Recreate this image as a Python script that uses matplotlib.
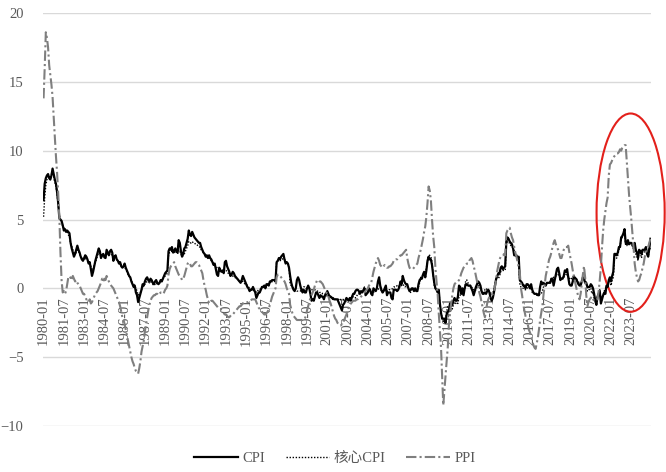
import numpy as np
import pandas as pd
import matplotlib.pyplot as plt
from matplotlib.patches import Ellipse

plt.rcParams['font.family'] = ['Liberation Serif', 'Noto Sans CJK SC']

# monthly, 1980-01 .. 2024-12
months = pd.date_range('1980-01', '2024-12', freq='MS').strftime('%Y-%m').tolist()

cpi = [
    6.4, 7.6, 8.0, 8.2, 8.3, 8.0, 7.9, 8.2, 8.7, 8.3, 7.9, 7.6,
    7.0, 6.2, 5.1, 5.0, 4.9, 4.6, 4.2, 4.3, 4.1, 4.2, 4.1, 4.0,
    3.3, 2.9, 2.6, 2.3, 2.5, 2.8, 3.1, 2.8, 2.6, 2.3, 2.1, 2.0,
    2.2, 2.4, 2.3, 2.1, 1.8, 1.9, 1.4, 0.9, 1.2, 1.6, 2.0, 2.3,
    2.6, 2.9, 2.7, 2.2, 2.4, 2.5, 2.3, 2.2, 2.8, 2.6, 2.4, 2.7,
    2.8, 2.6, 2.0, 2.3, 2.4, 2.1, 2.0, 1.8, 1.9, 1.6, 1.5, 1.6,
    1.8, 1.5, 1.3, 1.1, 0.9, 0.8, 0.5, 0.3, 0.1, 0.2, -0.3, -0.5,
    -1.0, -0.7, -0.4, -0.1, 0.3, 0.2, 0.5, 0.7, 0.8, 0.6, 0.5, 0.7,
    0.6, 0.4, 0.3, 0.5, 0.6, 0.4, 0.3, 0.4, 0.6, 0.5, 0.7, 0.9,
    1.1, 1.2, 1.3, 2.7, 2.9, 2.8, 3.0, 2.6, 2.7, 2.9, 2.7, 2.6,
    3.5, 3.3, 2.7, 2.3, 2.5, 2.9, 3.0, 3.3, 3.6, 4.2, 3.9, 3.8,
    4.1, 3.9, 3.7, 3.6, 3.5, 3.4, 3.3, 3.3, 3.0, 2.8, 2.6, 2.5,
    2.3, 2.4, 2.2, 2.4, 2.2, 2.1, 1.9, 1.7, 1.8, 1.4, 1.0, 0.9,
    1.5, 1.3, 1.2, 1.3, 1.1, 1.9, 2.0, 1.6, 1.4, 1.2, 0.9, 1.0,
    1.2, 1.1, 0.9, 0.8, 0.7, 0.6, 0.5, 0.4, 0.6, 0.9, 0.7, 0.5,
    0.3, 0.1, 0.0, -0.2, -0.1, -0.1, 0.1, -0.1, -0.3, -0.7, -0.5, -0.3,
    -0.3, -0.1, 0.1, 0.1, 0.2, 0.0, 0.3, 0.3, 0.2, 0.5, 0.5, 0.6,
    0.6, 0.6, 0.5, 1.9, 2.0, 2.2, 2.1, 2.3, 2.4, 2.5, 2.1, 1.8,
    1.9, 1.8, 1.5, 0.9, 0.4, 0.1, -0.1, -0.2, 0.0, 0.6, 0.8, 0.6,
    0.2, -0.1, -0.3, -0.1, -0.3, -0.3, 0.0, 0.2, 0.0, -0.4, -0.9, -0.8,
    -0.9, -0.6, -0.3, -0.3, -0.5, -0.7, -0.5, -0.6, -0.6, -0.8, -0.5, -0.4,
    -0.2, -0.4, -0.6, -0.6, -0.7, -0.7, -0.8, -0.8, -0.8, -0.8, -1.0, -1.2,
    -1.4, -1.6, -1.2, -1.1, -0.9, -0.7, -0.8, -0.9, -0.7, -0.9, -0.6, -0.4,
    -0.4, -0.2, -0.1, -0.1, -0.2, -0.4, -0.2, -0.3, -0.2, 0.0, -0.5, -0.4,
    -0.3, 0.0, -0.1, -0.4, -0.5, 0.0, -0.1, -0.2, 0.0, 0.5, 0.8, 0.2,
    -0.1, -0.3, -0.2, 0.0, 0.2, -0.5, -0.3, -0.3, -0.3, -0.7, -0.8, -0.1,
    -0.1, -0.1, -0.2, -0.1, 0.1, 0.5, 0.3, 0.9, 0.6, 0.4, 0.3, 0.3,
    0.0, -0.2, -0.1, 0.0, 0.0, -0.2, 0.0, -0.2, -0.2, 0.3, 0.6, 0.7,
    0.7, 1.0, 1.2, 0.8, 1.3, 2.0, 2.3, 2.1, 2.1, 1.7, 1.0, 0.4,
    0.0, -0.1, -0.3, -0.1, -1.1, -1.8, -2.2, -2.2, -2.2, -2.5, -1.9, -1.7,
    -1.6, -1.1, -1.1, -1.2, -0.9, -0.7, -0.9, -0.9, -0.6, 0.2, 0.1, -0.4,
    0.0, -0.5, 0.0, 0.3, 0.3, 0.2, 0.2, 0.2, 0.0, -0.2, -0.5, -0.2,
    0.1, 0.3, 0.5, 0.4, 0.2, -0.2, -0.4, -0.4, -0.3, -0.4, -0.2, -0.1,
    -0.3, -0.7, -0.9, -0.7, -0.3, 0.2, 0.7, 0.9, 1.1, 1.1, 1.5, 1.6,
    1.4, 1.5, 1.6, 3.4, 3.7, 3.6, 3.4, 3.3, 3.2, 2.9, 2.4, 2.4,
    2.4, 2.2, 2.3, 0.6, 0.5, 0.4, 0.2, 0.2, 0.0, 0.3, 0.3, 0.2,
    0.0, 0.3, -0.1, -0.3, -0.4, -0.4, -0.4, -0.5, -0.5, 0.1, 0.5, 0.3,
    0.4, 0.3, 0.2, 0.4, 0.4, 0.4, 0.4, 0.7, 0.7, 0.2, 0.6, 1.0,
    1.4, 1.5, 1.1, 0.6, 0.7, 0.7, 0.9, 1.3, 1.2, 1.4, 0.8, 0.3,
    0.2, 0.2, 0.5, 0.9, 0.7, 0.7, 0.5, 0.3, 0.2, 0.2, 0.5, 0.8,
    0.7, 0.4, 0.4, 0.1, 0.1, 0.1, 0.3, 0.2, 0.0, -0.4, -0.9, -1.2,
    -0.6, -0.4, -0.2, -1.1, -0.8, -0.5, -0.3, -0.4, 0.2, 0.1, 0.6, 0.8,
    0.5, 0.9, 1.2, 2.5, 2.5, 2.4, 2.6, 3.0, 3.0, 3.7, 3.8, 4.0,
    4.3, 3.3, 3.2, 3.5, 3.2, 3.3, 3.3, 3.2, 3.0, 3.3, 2.8, 2.6,
    2.2, 2.8, 2.7, 2.5, 2.8, 2.8, 2.8, 3.0, 2.5, 2.3, 2.9, 3.6,
]

core_cpi = [
    5.2, 6.6, 7.5, 7.9, 8.1, 8.2, 8.0, 8.3, 8.4, 8.1, 7.7, 7.4,
    6.8, 6.1, 5.3, 5.0, 4.8, 4.5, 4.4, 4.3, 4.2, 4.1, 3.9, 3.7,
    3.3, 3.1, 2.8, 2.6, 2.5, 2.6, 2.8, 2.7, 2.5, 2.3, 2.2, 2.1,
    2.1, 2.2, 2.1, 2.0, 1.9, 1.8, 1.6, 1.3, 1.4, 1.7, 1.9, 2.1,
    2.4, 2.6, 2.5, 2.3, 2.3, 2.4, 2.2, 2.3, 2.5, 2.5, 2.4, 2.5,
    2.5, 2.4, 2.1, 2.2, 2.3, 2.1, 2.0, 1.9, 1.8, 1.7, 1.6, 1.5,
    1.5, 1.4, 1.2, 1.0, 0.9, 0.7, 0.6, 0.4, 0.3, 0.2, 0.0, -0.2,
    -0.5, -0.4, -0.3, -0.1, 0.1, 0.2, 0.3, 0.4, 0.5, 0.5, 0.4, 0.5,
    0.4, 0.3, 0.2, 0.3, 0.4, 0.3, 0.3, 0.4, 0.5, 0.6, 0.7, 0.8,
    0.9, 1.0, 1.1, 2.4, 2.6, 2.6, 2.7, 2.6, 2.6, 2.7, 2.6, 2.5,
    2.8, 2.7, 2.5, 2.3, 2.4, 2.5, 2.7, 2.9, 3.1, 3.4, 3.3, 3.3,
    3.4, 3.3, 3.3, 3.2, 3.2, 3.1, 3.0, 3.0, 2.8, 2.7, 2.6, 2.5,
    2.4, 2.3, 2.2, 2.2, 2.1, 2.0, 1.9, 1.8, 1.7, 1.6, 1.5, 1.4,
    1.4, 1.4, 1.3, 1.2, 1.2, 1.3, 1.3, 1.2, 1.1, 1.0, 0.9, 0.9,
    0.9, 0.8, 0.8, 0.7, 0.7, 0.6, 0.5, 0.5, 0.5, 0.5, 0.4, 0.3,
    0.3, 0.2, 0.1, 0.0, 0.0, -0.1, -0.1, -0.2, -0.2, -0.3, -0.2, -0.1,
    -0.1, 0.0, 0.1, 0.1, 0.2, 0.2, 0.2, 0.3, 0.3, 0.4, 0.4, 0.5,
    0.5, 0.5, 0.5, 1.9, 2.0, 2.0, 2.0, 2.1, 2.1, 2.2, 2.1, 2.0,
    1.9, 1.8, 1.6, 0.3, 0.2, 0.1, 0.0, -0.1, -0.1, -0.2, -0.2, -0.2,
    -0.2, -0.1, -0.1, 0.1, 0.1, 0.0, 0.0, 0.0, 0.0, -0.1, -0.1, -0.1,
    -0.1, -0.1, -0.2, -0.2, -0.2, -0.3, -0.3, -0.3, -0.4, -0.4, -0.4, -0.4,
    -0.6, -0.6, -0.7, -0.6, -0.8, -0.8, -0.8, -0.8, -0.8, -0.8, -0.8, -0.9,
    -0.8, -0.8, -0.8, -0.9, -0.9, -0.8, -0.8, -0.9, -0.7, -0.8, -0.7, -0.6,
    -0.6, -0.7, -0.6, -0.4, -0.4, -0.4, -0.2, -0.2, -0.1, 0.1, -0.1, -0.1,
    -0.1, -0.2, -0.2, -0.2, -0.4, -0.3, -0.2, -0.2, -0.1, -0.1, 0.0, 0.1,
    -0.2, -0.3, -0.3, -0.2, -0.1, -0.2, -0.2, -0.1, -0.1, -0.1, 0.0, 0.1,
    0.1, 0.1, 0.2, 0.1, 0.2, 0.2, 0.2, 0.3, 0.2, 0.1, 0.2, 0.1,
    0.0, -0.1, -0.3, -0.1, -0.1, -0.1, -0.1, -0.1, -0.1, 0.1, 0.4, 0.8,
    0.8, 1.0, 1.2, 0.9, 1.5, 1.9, 2.4, 2.4, 2.3, 1.9, 1.0, 0.2,
    0.0, 0.0, -0.1, -0.1, -1.1, -1.7, -2.2, -2.4, -2.3, -2.2, -1.7, -1.3,
    -1.3, -1.2, -1.2, -1.5, -1.2, -1.0, -1.1, -1.0, -1.1, -0.6, -0.5, -0.4,
    -0.4, -0.3, -0.1, 0.6, 0.6, 0.4, 0.1, 0.2, 0.2, -0.1, -0.1, -0.2,
    -0.1, 0.1, 0.2, 0.2, -0.1, -0.2, -0.3, -0.3, -0.1, 0.0, -0.1, -0.2,
    -0.2, -0.3, -0.5, -0.4, 0.0, 0.4, 0.7, 0.8, 0.7, 0.9, 1.2, 1.3,
    1.3, 1.3, 1.3, 3.2, 3.4, 3.3, 3.3, 3.1, 3.0, 2.9, 2.7, 2.5,
    2.2, 2.0, 2.2, 0.3, 0.1, 0.1, 0.0, -0.1, -0.1, -0.1, 0.1, 0.1,
    0.0, 0.0, -0.3, -0.3, -0.4, -0.4, -0.5, -0.5, -0.5, -0.4, -0.4, -0.2,
    0.1, 0.2, 0.2, 0.3, 0.4, 0.4, 0.5, 0.7, 0.7, 0.8, 0.9, 0.9,
    0.9, 1.0, 0.9, 0.7, 0.7, 0.8, 0.8, 0.9, 1.0, 1.0, 0.9, 0.7,
    0.8, 0.7, 0.8, 0.9, 0.8, 0.6, 0.6, 0.5, 0.3, 0.4, 0.5, 0.7,
    0.8, 0.6, 0.4, -0.2, -0.2, 0.0, 0.0, -0.4, -0.3, -0.7, -0.9, -1.0,
    -0.6, -0.4, -0.1, -0.9, -0.6, -0.5, -0.2, 0.0, 0.1, 0.1, 0.5, 0.5,
    0.2, 0.6, 0.8, 2.1, 2.1, 2.2, 2.4, 2.8, 3.0, 3.6, 3.7, 4.0,
    4.2, 3.1, 3.1, 3.4, 3.2, 3.3, 3.1, 3.1, 2.8, 2.9, 2.5, 2.3,
    2.0, 2.8, 2.6, 2.2, 2.5, 2.6, 2.7, 2.8, 2.4, 2.3, 2.7, 3.0,
]

ppi = [
    13.8, 16.0, 18.6, 18.2, 17.5, 16.2, 15.5, 14.8, 13.9, 12.4, 11.0, 9.6,
    8.4, 6.9, 5.2, 2.6, 0.6, -0.3, -0.2, -0.4, -0.2, 0.3, 0.8, 0.7,
    0.8, 0.6, 0.9, 0.7, 0.5, 0.6, 0.4, 0.3, 0.2, 0.0, -0.2, -0.4,
    -0.4, -0.6, -0.8, -0.9, -1.0, -0.8, -1.1, -1.0, -0.8, -0.6, -0.4, -0.3,
    -0.2, 0.0, 0.2, 0.4, 0.7, 0.5, 0.7, 0.6, 0.9, 0.7, 0.5, 0.3,
    0.2, 0.1, 0.0, -0.2, -0.4, -0.6, -0.8, -1.0, -1.3, -1.7, -2.1, -2.3,
    -2.6, -3.0, -3.4, -3.8, -4.2, -4.6, -5.0, -5.3, -5.5, -5.8, -6.0, -6.1,
    -6.2, -5.8, -5.3, -4.6, -4.2, -3.8, -3.1, -2.6, -2.1, -1.6, -1.2, -0.9,
    -0.7, -0.6, -0.5, -0.5, -0.4, -0.4, -0.5, -0.4, -0.3, -0.3, -0.4, -0.3,
    -0.1, 0.0, 0.2, 1.0, 1.4, 1.6, 1.7, 1.8, 1.9, 1.6, 1.4, 1.2,
    1.0, 0.9, 0.8, 0.6, 0.7, 0.9, 1.2, 1.5, 1.8, 1.9, 1.8, 1.6,
    1.6, 1.7, 1.8, 1.9, 1.9, 1.8, 1.7, 1.5, 1.3, 1.1, 0.6, 0.2,
    -0.1, -0.5, -0.8, -1.1, -1.0, -0.9, -0.9, -1.0, -1.1, -1.2, -1.3, -1.4,
    -1.5, -1.5, -1.6, -1.7, -1.8, -1.9, -1.9, -2.0, -2.1, -2.1, -2.0, -1.9,
    -1.9, -1.8, -1.7, -1.6, -1.5, -1.4, -1.3, -1.3, -1.2, -1.1, -1.0, -1.0,
    -1.0, -1.0, -1.0, -0.9, -0.9, -0.8, -0.8, -0.8, -0.8, -1.0, -1.2, -1.4,
    -1.5, -1.6, -1.7, -1.8, -1.9, -1.9, -1.8, -1.7, -1.5, -1.2, -0.9, -0.6,
    -0.4, -0.2, 0.0, 0.8, 1.0, 1.0, 0.9, 0.8, 0.7, 0.6, 0.5, 0.3,
    0.0, -0.2, -0.4, -1.2, -1.5, -1.8, -2.0, -2.1, -2.2, -2.3, -2.3, -2.3,
    -2.3, -2.3, -2.3, -2.3, -2.2, -2.0, -1.6, -1.3, -1.0, -0.7, -0.5, -0.3,
    -0.1, 0.2, 0.4, 0.6, 0.6, 0.5, 0.5, 0.4, 0.3, 0.1, -0.1, -0.3,
    -0.4, -0.6, -0.9, -1.1, -1.4, -1.7, -2.0, -2.2, -2.3, -2.5, -2.6, -2.7,
    -2.7, -2.6, -2.5, -2.3, -2.1, -1.9, -1.6, -1.4, -1.2, -1.1, -1.0, -0.9,
    -0.9, -0.9, -0.8, -0.8, -0.7, -0.7, -0.6, -0.5, -0.4, -0.3, -0.2, -0.1,
    0.0, 0.2, 0.3, 0.4, 0.8, 1.2, 1.5, 1.8, 2.0, 2.2, 2.0, 1.7,
    1.6, 1.5, 1.6, 1.7, 1.6, 1.5, 1.5, 1.6, 1.6, 1.7, 1.8, 2.0,
    2.0, 2.1, 2.1, 2.2, 2.3, 2.4, 2.4, 2.5, 2.6, 2.7, 2.8, 2.2,
    1.8, 1.5, 1.4, 1.4, 1.4, 1.5, 1.6, 1.7, 1.8, 2.2, 2.5, 2.8,
    3.2, 3.6, 4.1, 4.5, 5.2, 6.2, 7.4, 7.1, 6.4, 5.0, 3.8, 3.0,
    1.5, 0.5, -0.4, -1.8, -3.0, -4.3, -6.5, -8.5, -7.4, -6.2, -5.3, -4.3,
    -2.7, -1.8, -1.1, -0.5, 0.0, 0.3, 0.4, 0.5, 0.5, 0.6, 0.8, 1.1,
    1.3, 1.5, 1.6, 1.7, 1.8, 1.8, 2.0, 2.1, 2.2, 2.0, 1.6, 1.3,
    0.9, 0.5, 0.1, -0.3, -0.6, -1.0, -1.4, -1.8, -2.1, -1.6, -1.1, -0.8,
    -0.6, -0.5, -0.5, -0.4, -0.3, 0.2, 0.7, 1.3, 1.7, 2.1, 2.3, 2.4,
    2.4, 2.5, 2.4, 4.0, 4.2, 4.3, 4.4, 4.0, 3.7, 3.5, 3.0, 2.6,
    2.3, 1.9, 1.5, 1.1, 0.0, -0.5, -1.1, -1.6, -2.0, -2.3, -2.6, -3.0,
    -3.2, -3.5, -3.8, -4.1, -4.3, -4.4, -4.0, -3.6, -3.0, -2.3, -1.8, -1.3,
    -0.5, 0.2, 0.9, 1.3, 1.7, 2.1, 2.3, 2.6, 3.0, 3.3, 3.5, 3.2,
    3.0, 2.8, 2.5, 2.2, 2.2, 2.5, 2.8, 3.0, 3.0, 3.0, 3.1, 2.6,
    2.2, 1.8, 1.3, 0.9, 0.5, 0.1, -0.3, -0.6, -0.8, -0.4, 0.3, 1.0,
    1.6, 0.8, -0.5, -1.3, -1.0, -0.8, -0.7, -0.6, -0.8, -0.9, -0.8, -0.8,
    -0.8, -0.2, 0.6, 1.6, 3.0, 4.2, 5.0, 5.6, 6.2, 6.6, 8.2, 9.0,
    9.1, 9.3, 9.5, 9.6, 9.7, 9.8, 9.8, 9.9, 10.1, 10.0, 10.2, 10.3,
    10.4, 10.4, 9.2, 7.9, 6.8, 5.9, 5.0, 4.0, 3.0, 1.8, 1.2, 0.8,
    0.5, 0.6, 0.9, 1.1, 1.5, 1.8, 2.3, 2.6, 2.8, 3.0, 3.3, 3.6,
]

label_step = 18          # one axis label every 18 months
# red ring drawn round 2021-2024 (centre month index, centre value, width in months, height)
ring = (521.4, 5.5, 60.5, 14.4)

x = np.arange(len(months))

fig = plt.figure(figsize=(6.66, 4.72), dpi=100)
ax = fig.add_axes([43 / 666, 1 - 426 / 472, 608 / 666, 413 / 472])

ax.plot(x, cpi, color='black', linewidth=1.6, label='CPI')
ax.plot(x, core_cpi, color='black', linewidth=1.0, linestyle=(0, (1, 1.2)), label='核心CPI')
ax.plot(x, ppi, color='#7f7f7f', linewidth=1.5, linestyle=(0, (5, 1.5, 1, 1.5)), label='PPI')

ax.add_patch(Ellipse((ring[0], ring[1]), ring[2], ring[3], fill=False,
                     edgecolor='#e3201b', linewidth=1.5, clip_on=False))

ax.set_ylim(-10, 20)
ax.set_yticks(range(-10, 21, 5))
ax.set_xlim(-0.5, len(x) - 0.5)
ax.set_xticks(x[::label_step])
ax.set_xticklabels(months[::label_step])

ax.grid(axis='y', color='#d9d9d9', linewidth=1.0)
ax.set_axisbelow(True)
for s in ax.spines.values():
    s.set_visible(False)
ax.spines['bottom'].set_position(('data', 0))
ax.tick_params(length=0, labelsize=10.5, colors='#595959')
ax.tick_params(axis='y', pad=14)
ax.tick_params(axis='x', pad=6, labelrotation=90)

fig.legend(loc='center', bbox_to_anchor=(0.503, 14 / 472), ncol=3, frameon=False,
           fontsize=10.5, handlelength=3.0, handletextpad=0.3, columnspacing=1.4,
           labelcolor='#595959')

plt.savefig('out.png', dpi=100)
